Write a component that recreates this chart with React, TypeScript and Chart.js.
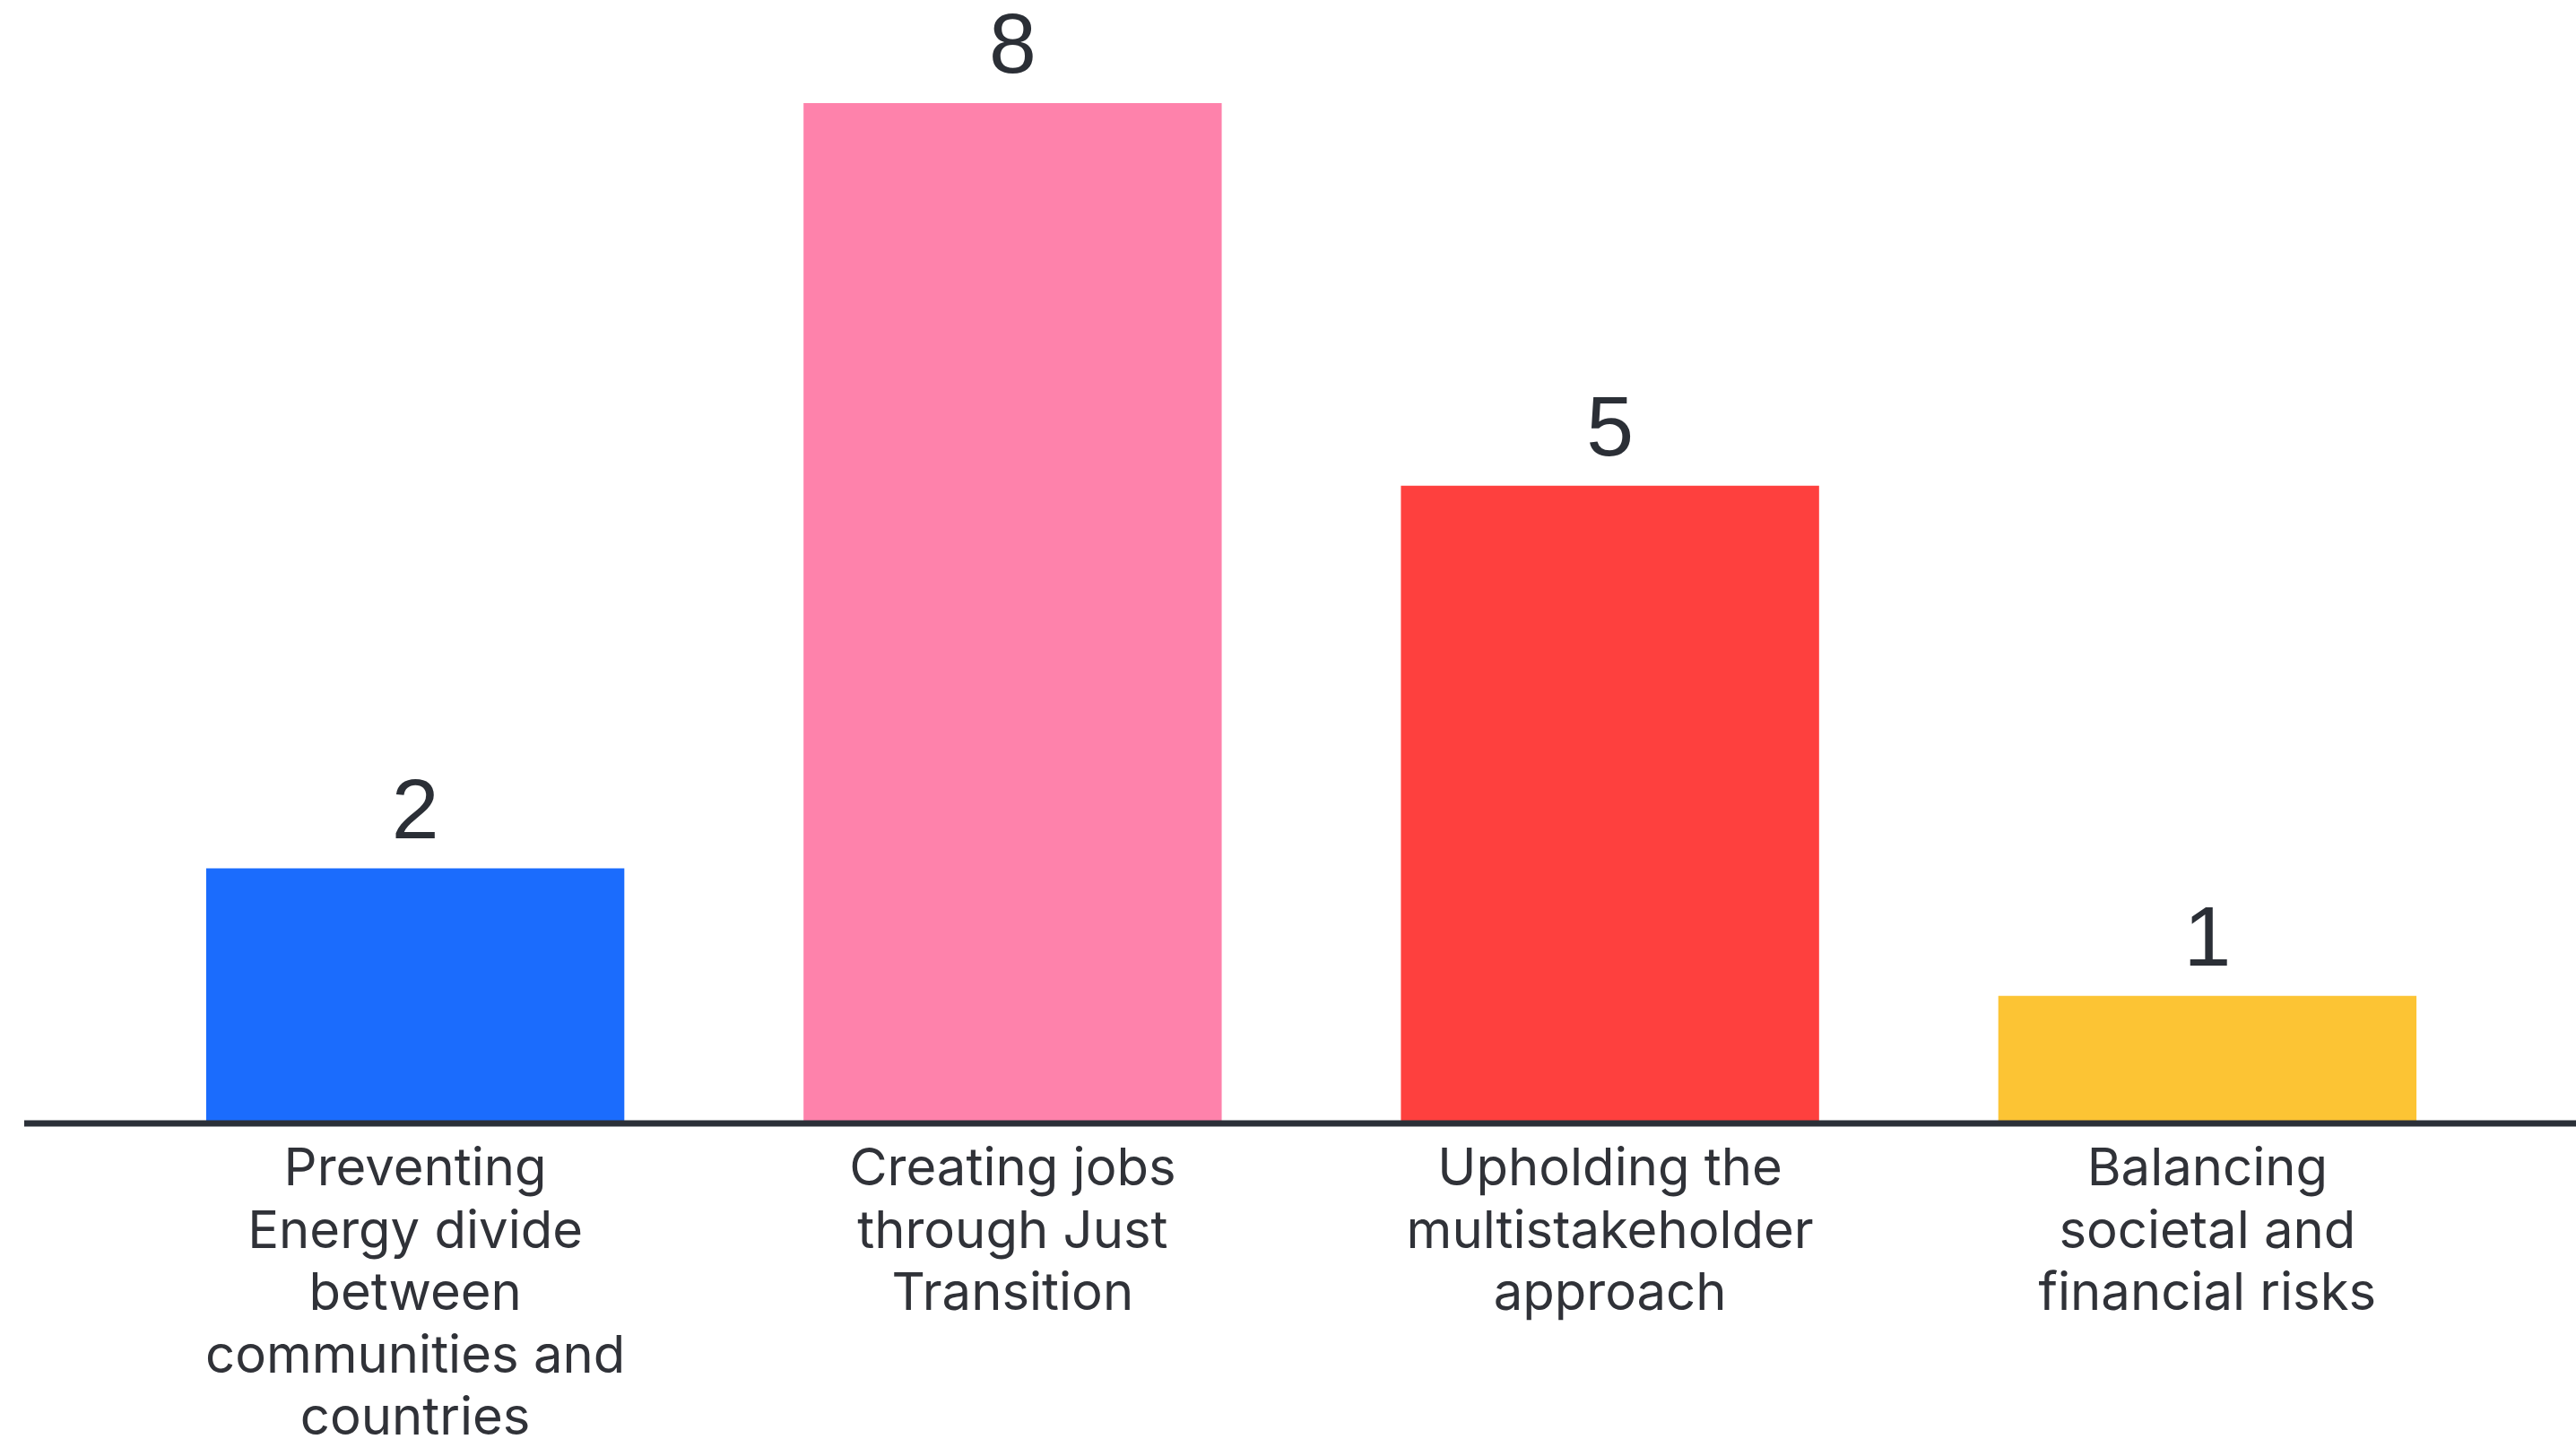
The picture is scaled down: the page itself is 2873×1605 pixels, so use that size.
import React, { useEffect, useRef } from "react";
import { Chart, registerables } from "chart.js";

Chart.register(...registerables);

const categories: string[][] = [
  ["Preventing", "Energy divide", "between", "communities and", "countries"],
  ["Creating jobs", "through Just", "Transition"],
  ["Upholding the", "multistakeholder", "approach"],
  ["Balancing", "societal and", "financial risks"],
];
const values: number[] = [2, 8, 5, 1];
const barColors: string[] = ["#1b6cfd", "#fe82ab", "#fe403e", "#fcc434"];

const W = 2873;
const H = 1605;

const axisLinePlugin = {
  id: "axisLine",
  afterDatasetsDraw(chart: any) {
    const { ctx, chartArea } = chart;
    ctx.save();
    ctx.strokeStyle = "#2b3038";
    ctx.lineWidth = 7;
    ctx.beginPath();
    ctx.moveTo(27, chartArea.bottom);
    ctx.lineTo(chart.width, chartArea.bottom);
    ctx.stroke();
    ctx.restore();
  },
};

const valueLabelPlugin = {
  id: "valueLabels",
  afterDatasetsDraw(chart: any) {
    const { ctx } = chart;
    const meta = chart.getDatasetMeta(0);
    ctx.save();
    ctx.fillStyle = "#2b2f36";
    ctx.font = "95px 'Liberation Sans', Arial, sans-serif";
    ctx.textAlign = "center";
    ctx.textBaseline = "alphabetic";
    meta.data.forEach((bar: any, i: number) => {
      ctx.fillText(String(values[i]), bar.x, bar.y - 34);
    });
    ctx.restore();
  },
};

export default function App() {
  const canvasRef = useRef<HTMLCanvasElement | null>(null);

  useEffect(() => {
    if (!canvasRef.current) return;
    const chart = new Chart(canvasRef.current, {
      type: "bar",
      data: {
        labels: categories,
        datasets: [
          {
            data: values,
            backgroundColor: barColors,
            borderWidth: 0,
            barPercentage: 0.7,
            categoryPercentage: 1,
          },
        ],
      },
      options: {
        animation: false,
        responsive: false,
        devicePixelRatio: 1,
        layout: { padding: { left: 130, right: 78, top: 115, bottom: 0 } },
        plugins: {
          legend: { display: false },
          tooltip: { enabled: false },
          title: { display: false },
        },
        scales: {
          x: {
            grid: { display: false, drawTicks: false },
            border: { display: false },
            ticks: {
              color: "#303238",
              padding: 17,
              maxRotation: 0,
              autoSkip: false,
              font: { family: "Inter, 'Open Sans', sans-serif", size: 58, lineHeight: 69.5 / 58 },
            },
            afterFit(scale: any) {
              scale.height = 352;
            },
          },
          y: {
            display: false,
            min: 0,
            max: 8,
          },
        },
      },
      plugins: [axisLinePlugin, valueLabelPlugin],
    });
    return () => chart.destroy();
  }, []);

  return (
    <div style={{ position: "fixed", left: 0, top: 0, width: W, height: H, background: "#fff" }}>
      <canvas ref={canvasRef} width={W} height={H} style={{ width: W, height: H, display: "block" }} />
    </div>
  );
}
